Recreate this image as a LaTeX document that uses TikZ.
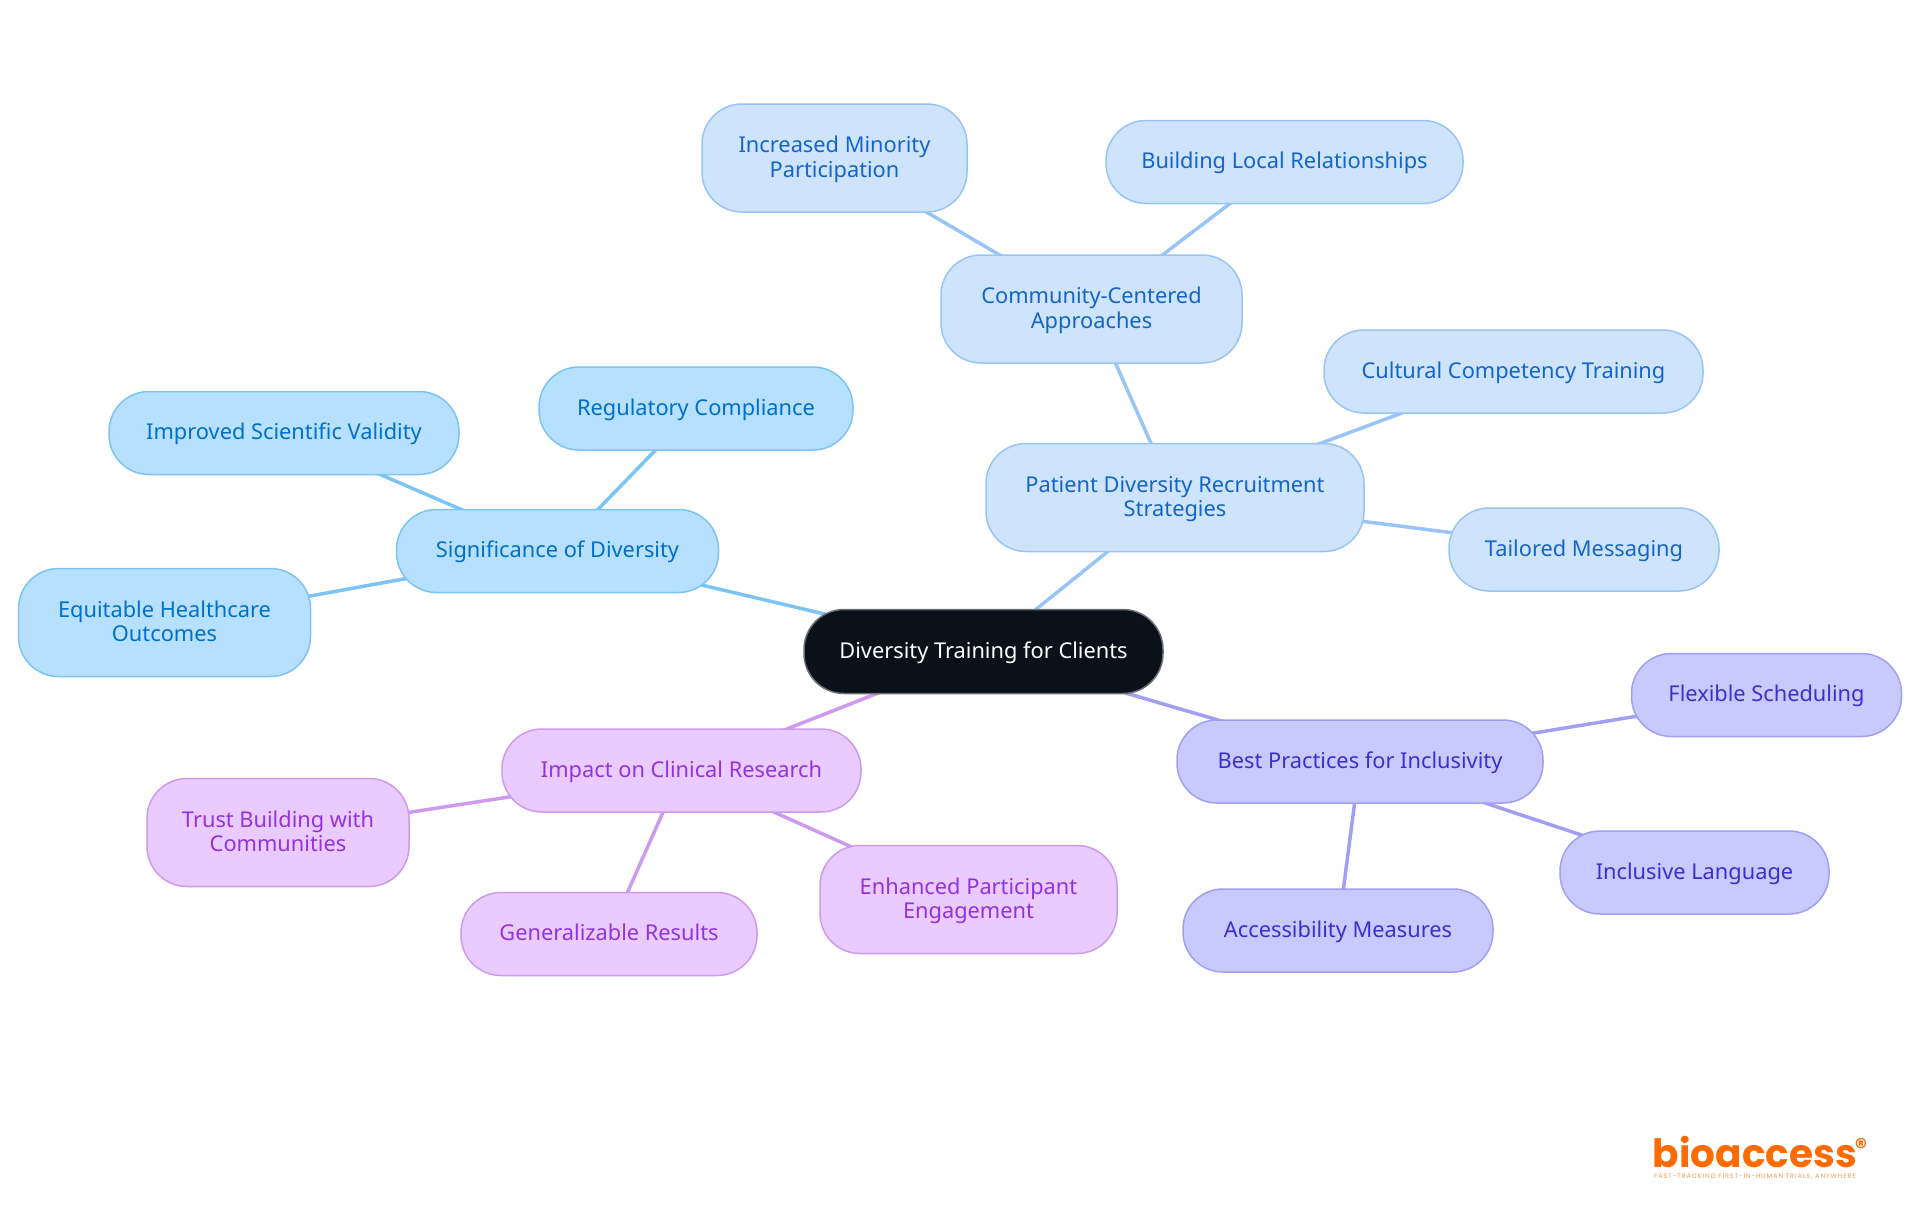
\documentclass[tikz,border=0pt]{standalone}
\usepackage{fontspec}
\setmainfont{Noto Sans}
\newfontfamily\logofont{Poppins}
\newfontfamily\taglinefont[LetterSpace=14]{Poppins}
\usetikzlibrary{backgrounds}
\definecolor{rootfill}{HTML}{0B1119}
\definecolor{rootline}{HTML}{6B7075}
\definecolor{skyfill}{HTML}{B6E0FE}
\definecolor{skyline}{HTML}{7CC4F4}
\definecolor{skytext}{HTML}{0070C8}
\definecolor{bluefill}{HTML}{CEE3FC}
\definecolor{blueline}{HTML}{98C5F5}
\definecolor{bluetext}{HTML}{1565C8}
\definecolor{indigofill}{HTML}{C8CAFE}
\definecolor{indigoline}{HTML}{A29EF2}
\definecolor{indigotext}{HTML}{3A30D0}
\definecolor{purplefill}{HTML}{E9CBFF}
\definecolor{purpleline}{HTML}{CC9BEF}
\definecolor{purpletext}{HTML}{9333DD}
\definecolor{logoorange}{HTML}{FF6B00}
\tikzset{
    mapnode/.style={rectangle, rounded corners=40, line width=1.5, align=center,
        inner sep=0pt, text height=16.2, text depth=2.5, font=\fontsize{21.8}{24.5}\selectfont},
    twolines/.style={text height=41, text depth=2.5},
    rootnode/.style={mapnode, draw=rootline, fill=rootfill, text=white},
    skynode/.style={mapnode, draw=skyline, fill=skyfill, text=skytext},
    bluenode/.style={mapnode, draw=blueline, fill=bluefill, text=bluetext},
    indigonode/.style={mapnode, draw=indigoline, fill=indigofill, text=indigotext},
    purplenode/.style={mapnode, draw=purpleline, fill=purplefill, text=purpletext},
    skylink/.style={draw=skyline, line width=3.5},
    bluelink/.style={draw=blueline, line width=3.5},
    indigolink/.style={draw=indigoline, line width=3.5},
    purplelink/.style={draw=purpleline, line width=3.5}
}
\begin{document}
\begin{tikzpicture}[x=1pt,y=-1pt]
    \useasboundingbox (0,0) rectangle (1920,1215);

    \node[rootnode, minimum width=359, minimum height=84] (root) at (983.5,651.5) {Diversity Training for Clients};

    \node[skynode, minimum width=322, minimum height=83] (significance) at (557.5,551) {Significance of Diversity};
    \node[skynode, minimum width=314, minimum height=83] (regulatory) at (696,408.5) {Regulatory Compliance};
    \node[skynode, minimum width=350, minimum height=83] (validity) at (284,433) {Improved Scientific Validity};
    \node[skynode, twolines, minimum width=292, minimum height=108] (equitable) at (164.5,622.5) {Equitable Healthcare\\Outcomes};

    \node[bluenode, twolines, minimum width=378, minimum height=108] (patient) at (1175,497.5) {Patient Diversity Recruitment\\Strategies};
    \node[bluenode, twolines, minimum width=301, minimum height=108] (community) at (1091.5,309) {Community-Centered\\Approaches};
    \node[bluenode, twolines, minimum width=265, minimum height=108] (minority) at (834.5,158) {Increased Minority\\Participation};
    \node[bluenode, minimum width=357, minimum height=83] (local) at (1284.5,162) {Building Local Relationships};
    \node[bluenode, minimum width=379, minimum height=83] (cultural) at (1513.5,371.5) {Cultural Competency Training};
    \node[bluenode, minimum width=270, minimum height=83] (tailored) at (1584,549.5) {Tailored Messaging};

    \node[indigonode, minimum width=366, minimum height=83] (practices) at (1360,761.5) {Best Practices for Inclusivity};
    \node[indigonode, minimum width=270, minimum height=83] (flexible) at (1766.5,695) {Flexible Scheduling};
    \node[indigonode, minimum width=269, minimum height=83] (language) at (1694.5,872.5) {Inclusive Language};
    \node[indigonode, minimum width=310, minimum height=83] (access) at (1338,930.5) {Accessibility Measures};

    \node[purplenode, minimum width=359, minimum height=83] (impact) at (681.5,770.5) {Impact on Clinical Research};
    \node[purplenode, twolines, minimum width=262, minimum height=108] (trust) at (278,832.5) {Trust Building with\\Communities};
    \node[purplenode, minimum width=296, minimum height=83] (results) at (609,934) {Generalizable Results};
    \node[purplenode, twolines, minimum width=297, minimum height=108] (engagement) at (968.5,899.5) {Enhanced Participant\\Engagement};

    % links
    \begin{scope}[on background layer]
        \draw[skylink] (root.center) -- (significance.center);
        \draw[skylink] (significance.center) -- (regulatory.center);
        \draw[skylink] (significance.center) -- (validity.center);
        \draw[skylink] (significance.center) -- (equitable.center);
        \draw[bluelink] (root.center) -- (patient.center);
        \draw[bluelink] (patient.center) -- (community.center);
        \draw[bluelink] (community.center) -- (minority.center);
        \draw[bluelink] (community.center) -- (local.center);
        \draw[bluelink] (patient.center) -- (cultural.center);
        \draw[bluelink] (patient.center) -- (tailored.center);
        \draw[indigolink] (root.center) -- (practices.center);
        \draw[indigolink] (practices.center) -- (flexible.center);
        \draw[indigolink] (practices.center) -- (language.center);
        \draw[indigolink] (practices.center) -- (access.center);
        \draw[purplelink] (root.center) -- (impact.center);
        \draw[purplelink] (impact.center) -- (trust.center);
        \draw[purplelink] (impact.center) -- (results.center);
        \draw[purplelink] (impact.center) -- (engagement.center);
    \end{scope}

    % logo
    \node[text=logoorange, font=\logofont\bfseries\fontsize{39}{39}\selectfont, inner sep=0pt] (logo) at (1755,1152) {bioaccess};
    \node[text=logoorange, font=\logofont\bfseries\fontsize{24}{24}\selectfont, inner sep=0pt] (logomark) at (1861,1147) {®};
    \node[text=logoorange!70, font=\taglinefont\fontsize{6.5}{7}\selectfont, inner sep=0pt] (tagline) at (1755,1177) {FAST-TRACKING FIRST-IN-HUMAN TRIALS, ANYWHERE};
\end{tikzpicture}
\end{document}
